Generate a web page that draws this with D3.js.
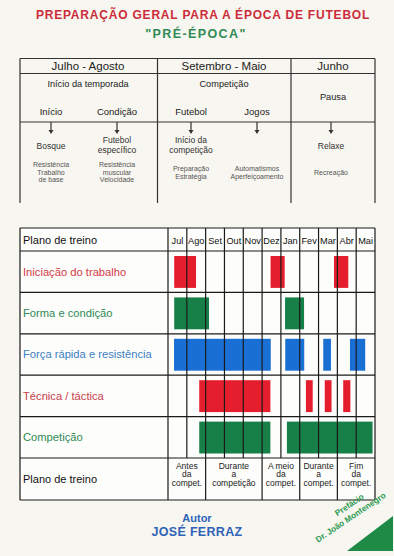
<!DOCTYPE html>
<html>
<head>
<meta charset="utf-8">
<script src="https://cdn.jsdelivr.net/npm/d3@7"></script>
<style>
  html, body { margin: 0; padding: 0; background: #f8f6f0; }
  svg { display: block; font-family: "Liberation Sans", Arial, sans-serif; }
</style>
</head>
<body>
<div id="chart"></div>
<script>
// ---- data ----
var months = ["Jul","Ago","Set","Out","Nov","Dez","Jan","Fev","Mar","Abr","Mai"];
var rows = ["Iniciação do trabalho","Forma e condição","Força rápida e resistência","Técnica / táctica","Competição"];
var rowColors = ["#d43a45","#2f8a56","#3b7fc2","#c8404a","#2f8a56"];
var barColors = ["#e51e2d","#178049","#1a6fd4","#e51e2d","#178049"];

// bars: [row, start month, end month] (0 = start of Jul)
var bars = [
  [0, 0.33, 1.49], [0, 5.45, 6.2], [0, 8.82, 9.58],
  [1, 0.33, 2.18], [1, 6.22, 7.23],
  [2, 0.32, 5.46], [2, 6.23, 7.24], [2, 8.25, 8.66], [2, 9.67, 10.48],
  [3, 1.66, 5.44], [3, 7.33, 7.69], [3, 8.33, 8.69], [3, 9.31, 9.69],
  [4, 1.66, 5.44], [4, 6.32, 10.87]
];

// footer groups: [start month, end month, lines]
var phases = [
  [0, 2, ["Antes","da","compet."]],
  [2, 5, ["Durante","a","competição"]],
  [5, 7, ["A meio","da","compet."]],
  [7, 9, ["Durante","a","compet."]],
  [9, 11, ["Fim","da","compet."]]
];

// upper table
var periods = ["Julho - Agosto","Setembro - Maio","Junho"];
var periodSub = ["Início da temporada","Competição","Pausa"];
var stages = ["Início","Condição","Futebol","Jogos"];
var stageTargets = [["Bosque"],["Futebol","específico"],["Início da","competição"],[],["Relaxe"]];
var stageNotes = [["Resistência","Trabalho","de base"],["Resistência","muscular","Velocidade"],["Preparação","Estratégia"],["Automatismos","Aperfeiçoamento"],["Recreação"]];

// ---- drawing ----
var W = 394, H = 556;
var svg = d3.select("#chart").append("svg").attr("width", W).attr("height", H);

svg.append("rect").attr("width", W).attr("height", H).attr("fill", "#f8f6f0");

svg.append("text").attr("x", 203).attr("y", 19).attr("text-anchor", "middle")
  .attr("font-size", 12).attr("font-weight", "bold").attr("letter-spacing", 0.8).attr("fill", "#cc2c3a")
  .text("PREPARAÇÃO GERAL PARA A ÉPOCA DE FUTEBOL");
svg.append("text").attr("x", 196).attr("y", 38).attr("text-anchor", "middle")
  .attr("font-size", 12.5).attr("font-weight", "bold").attr("letter-spacing", 1.4).attr("fill", "#2f8a56")
  .text("\"PRÉ-ÉPOCA\"");

// upper table
var tbl = svg.append("g").attr("stroke", "#333").attr("stroke-width", 1.2);
var tx = [20, 157.5, 291, 375];
tbl.append("line").attr("x1", 20).attr("x2", 375).attr("y1", 58.5).attr("y2", 58.5);
tbl.append("line").attr("x1", 20).attr("x2", 375).attr("y1", 73.5).attr("y2", 73.5);
tbl.append("line").attr("x1", 20).attr("x2", 375).attr("y1", 122).attr("y2", 122);
tx.forEach(function(xx) {
  tbl.append("line").attr("x1", xx).attr("x2", xx).attr("y1", 58.5).attr("y2", 203);
});

var pcx = [88, 224, 333];
periods.forEach(function(p, i) {
  svg.append("text").attr("x", pcx[i]).attr("y", 70).attr("text-anchor", "middle")
    .attr("font-size", 11.5).attr("fill", "#222").text(p);
  svg.append("text").attr("x", pcx[i]).attr("y", i == 2 ? 100 : 87).attr("text-anchor", "middle")
    .attr("font-size", 9.2).attr("fill", "#222").text(periodSub[i]);
});

var scx = [51, 117, 191, 257, 331];
stages.forEach(function(s, i) {
  svg.append("text").attr("x", scx[i]).attr("y", 115).attr("text-anchor", "middle")
    .attr("font-size", 9.5).attr("fill", "#222").text(s);
});
scx.forEach(function(xx, i) {
  svg.append("line").attr("x1", xx).attr("x2", xx).attr("y1", 122).attr("y2", 132)
    .attr("stroke", "#333").attr("stroke-width", 1.2);
  svg.append("path").attr("d", "M" + (xx - 2.5) + ",130L" + (xx + 2.5) + ",130L" + xx + ",134Z").attr("fill", "#333");
  var ty = stageTargets[i].length == 2 ? 143 : 149;
  stageTargets[i].forEach(function(t, j) {
    svg.append("text").attr("x", xx).attr("y", ty + j * 9.5).attr("text-anchor", "middle")
      .attr("font-size", 8.5).attr("fill", "#333").text(t);
  });
  var n = stageNotes[i].length;
  var ny = n == 3 ? 167 : (n == 2 ? 171 : 175);
  stageNotes[i].forEach(function(t, j) {
    svg.append("text").attr("x", xx).attr("y", ny + j * 7.7).attr("text-anchor", "middle")
      .attr("font-size", 7).attr("fill", "#555").text(t);
  });
});

// gantt table
var x0 = 168, x1 = 375, left = 20;
var x = d3.scaleLinear().domain([0, months.length]).range([x0, x1]);
var y = d3.scaleBand().domain(d3.range(rows.length)).range([251, 458]);
var headTop = 228, footBot = 500;

var g = svg.append("g");

g.append("rect").attr("x", left).attr("y", headTop).attr("width", x1 - left).attr("height", footBot - headTop)
  .attr("fill", "#fdfdfb");

// bars
g.selectAll("rect.bar").data(bars).enter().append("rect").attr("class", "bar")
  .attr("x", function(d) { return x(d[1]); })
  .attr("width", function(d) { return x(d[2]) - x(d[1]); })
  .attr("y", function(d) { return y(d[0]) + 5; })
  .attr("height", y.bandwidth() - 9.5)
  .attr("fill", function(d) { return barColors[d[0]]; });

var grid = g.append("g").attr("stroke", "#1a1a1a").attr("stroke-width", 1.2).attr("fill", "none");
// horizontal lines
[headTop, 251].concat(rows.map(function(r, i) { return y(i) + y.bandwidth(); })).concat([footBot])
  .forEach(function(yy) {
    grid.append("line").attr("x1", left).attr("x2", x1).attr("y1", yy).attr("y2", yy);
  });
grid.append("line").attr("x1", left).attr("x2", left).attr("y1", headTop).attr("y2", footBot);
// month lines
d3.range(months.length + 1).forEach(function(i) {
  grid.append("line").attr("x1", x(i)).attr("x2", x(i)).attr("y1", headTop).attr("y2", 458);
});
phases.forEach(function(p) {
  grid.append("line").attr("x1", x(p[0])).attr("x2", x(p[0])).attr("y1", 458).attr("y2", footBot);
});
grid.append("line").attr("x1", x1).attr("x2", x1).attr("y1", 458).attr("y2", footBot);

g.selectAll("text.month").data(months).enter().append("text").attr("class", "month")
  .attr("x", function(d, i) { return x(i + 0.5); }).attr("y", 243.5)
  .attr("text-anchor", "middle").attr("font-size", 9.2).attr("fill", "#111").text(function(d) { return d; });

g.append("text").attr("x", 23).attr("y", 244).attr("font-size", 11).attr("fill", "#111").text("Plano de treino");
g.selectAll("text.row").data(rows).enter().append("text").attr("class", "row")
  .attr("x", 23).attr("y", function(d, i) { return y(i) + y.bandwidth() / 2 + 3.8; })
  .attr("font-size", 11.2).attr("fill", function(d, i) { return rowColors[i]; }).text(function(d) { return d; });
g.append("text").attr("x", 23).attr("y", 483).attr("font-size", 11).attr("fill", "#111").text("Plano de treino");

phases.forEach(function(p) {
  p[2].forEach(function(t, j) {
    g.append("text").attr("x", (x(p[0]) + x(p[1])) / 2).attr("y", 468.5 + j * 8.7)
      .attr("text-anchor", "middle").attr("font-size", 8.5).attr("fill", "#222").text(t);
  });
});

// author
svg.append("text").attr("x", 197).attr("y", 522).attr("text-anchor", "middle")
  .attr("font-size", 11).attr("font-weight", "bold").attr("fill", "#2f63b8").text("Autor");
svg.append("text").attr("x", 197).attr("y", 536).attr("text-anchor", "middle")
  .attr("font-size", 12.5).attr("font-weight", "bold").attr("letter-spacing", 0.3).attr("fill", "#2f63b8").text("JOSÉ FERRAZ");

// corner triangle
svg.append("path").attr("d", "M347,551L393,516L393,551Z").attr("fill", "#1f8a45");
var corner = svg.append("g").attr("transform", "translate(351,518) rotate(-34)");
corner.append("text").attr("x", 6).attr("y", -9).attr("text-anchor", "middle")
  .attr("font-size", 8.3).attr("font-weight", "bold").attr("fill", "#2b9a50").text("Prefácio");
corner.append("text").attr("x", 0).attr("y", 2).attr("text-anchor", "middle")
  .attr("font-size", 8.3).attr("font-weight", "bold").attr("fill", "#2b9a50").text("Dr. João Montenegro");
</script>
</body>
</html>
